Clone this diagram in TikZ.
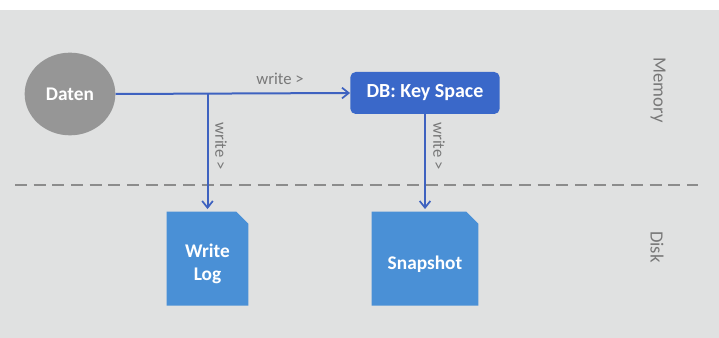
\documentclass[tikz,border=0pt]{standalone}
\usepackage{fontspec}
\setmainfont{Carlito}
\usetikzlibrary{arrows.meta,backgrounds,shapes.geometric}

\definecolor{bggray}{RGB}{224,225,225}
\definecolor{circgray}{RGB}{150,150,150}
\definecolor{keyblue}{RGB}{58,104,201}
\definecolor{docblue}{RGB}{74,144,214}
\definecolor{flowblue}{RGB}{62,98,192}
\definecolor{labgray}{RGB}{120,120,120}

\tikzset{
  flow/.style={draw=flowblue, line width=1.5pt, -{Straight Barb[length=5pt,width=8pt,line width=1.3pt]}},
  lab/.style={text=labgray, font=\fontsize{12.5}{14}\selectfont, inner sep=0.75pt},
  side/.style={text=labgray, font=\fontsize{14}{16}\selectfont, rotate=-90, inner sep=0.75pt},
  doc/.style={text=white, font=\bfseries\fontsize{14.5}{17}\selectfont, align=center, minimum height=70pt}
}

\begin{document}
\begin{tikzpicture}[x=0.75pt,y=0.75pt,yscale=-1,xscale=1]
\useasboundingbox (0,0) rectangle (719,338);

%Separator Memory / Disk
\coordinate (sepL) at (15,185);
\coordinate (sepR) at (698,185);
\draw [color={rgb, 255:red, 140; green, 140; blue, 140 }, line width=0.9pt, dash pattern=on 9pt off 5pt] (sepL) -- (sepR);

%Shape: Circle
\node [ellipse, fill=circgray, minimum width=68pt, minimum height=62pt, text=white, font=\bfseries\fontsize{14.5}{17}\selectfont] (daten) at (70,94) {Daten};

%Shape: Rounded Rect
\node [rounded corners=4pt, fill=keyblue, minimum width=112pt, minimum height=31.5pt, text=white, font=\bfseries\fontsize{15}{17}\selectfont] (keyspace) at (425,93) {DB: Key Space};

%Shape: Documents (text sits a little below the middle)
\node [doc, minimum width=61pt] (writelog) at (207.5,264) {Write\\Log};
\node [doc, minimum width=79.5pt] (snapshot) at (425,264) {Snapshot};
\begin{scope}[on background layer]
%Background
\fill [bggray] (0,10) rectangle (719,338);
\foreach \d in {writelog,snapshot}
  \fill [docblue] ([yshift=-4pt]\d.south west) -- ([yshift=-4pt]\d.north west) -- ([xshift=-9pt,yshift=-4pt]\d.north east) -- ([yshift=5pt]\d.north east) -- ([yshift=-4pt]\d.south east) -- cycle;
\end{scope}

%Straight Lines
\coordinate (split) at (writelog.north |- daten.east);
\draw [flow] (daten.east) -- (keyspace.west);
\draw [flow] (split) -- ([yshift=-6pt]writelog.north);
\draw [flow] (keyspace.south) -- ([yshift=-6pt]keyspace.south |- snapshot.north);

% Text Node
\node [lab] (wr1) at (280,79) {write >};
\node [lab, rotate=-90] (wr2) at (221,146) {write >};
\node [lab, rotate=-90] (wr3) at (439,146) {write >};
% Text Node
\node [side] (memory) at (658,90) {Memory};
\node [side] (disk) at (657,247) {Disk};

\end{tikzpicture}
\end{document}
